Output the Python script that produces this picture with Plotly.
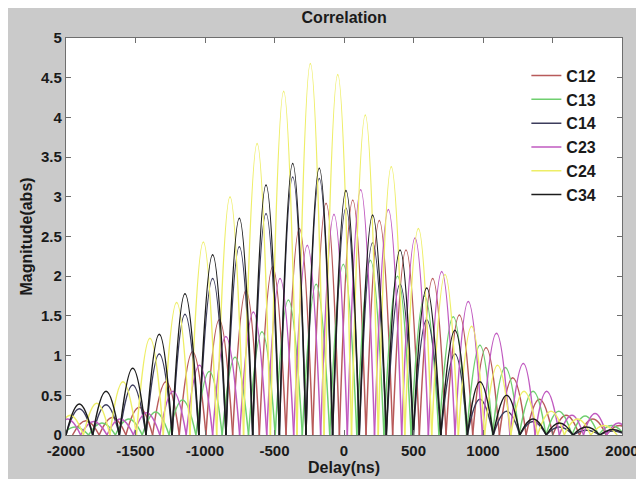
import plotly.graph_objects as go

# ---- data (lobe peak delay [ns] and peak magnitude) ----
series_names = ["C12", "C13", "C14", "C23", "C24", "C34"]

c12_delay = [-1857, -1665, -1473, -1281, -1089, -897, -705, -513, -321, -129, 63, 254, 446, 638, 830, 1022, 1214, 1406, 1598, 1790, 1982]
c12_mag = [0.18, 0.22, 0.35, 0.67, 1.05, 1.45, 1.82, 2.12, 2.60, 2.92, 2.96, 2.70, 2.33, 1.97, 1.51, 1.10, 0.72, 0.45, 0.25, 0.20, 0.12]

c13_delay = [-1934, -1741, -1548, -1355, -1162, -969, -784, -590, -400, -200, -5, 190, 385, 580, 786, 978, 1160, 1360, 1545, 1735, 1925]
c13_mag = [0.10, 0.15, 0.20, 0.29, 0.44, 0.80, 0.98, 1.30, 1.70, 1.90, 2.15, 2.20, 2.00, 1.75, 1.49, 1.13, 0.85, 0.55, 0.30, 0.24, 0.12]

c14_delay = [-1904, -1712, -1520, -1329, -1144, -945, -753, -561, -369, -178, 14, 206, 403, 595, 798, 978, 1170, 1360, 1550, 1745, 1935]
c14_mag = [0.33, 0.38, 0.63, 1.02, 1.52, 1.97, 2.37, 2.79, 3.25, 3.23, 2.86, 2.42, 1.90, 1.45, 1.02, 0.45, 0.30, 0.17, 0.10, 0.06, 0.05]

c23_delay = [-1990, -1800, -1610, -1420, -1230, -1040, -850, -652, -460, -264, -72, 120, 319, 511, 703, 894, 1097, 1290, 1458, 1640, 1806, 1974]
c23_mag = [0.20, 0.17, 0.20, 0.28, 0.55, 0.88, 1.24, 1.55, 1.97, 2.39, 2.78, 3.09, 2.84, 2.48, 2.06, 1.68, 1.28, 0.90, 0.55, 0.25, 0.27, 0.15]

c24_delay = [-1970, -1779, -1590, -1396, -1204, -1012, -820, -625, -434, -242, -45, 153, 340, 535, 727, 918, 1105, 1295, 1490, 1680, 1870]
c24_mag = [0.25, 0.40, 0.67, 1.22, 1.67, 2.43, 3.00, 3.67, 4.33, 4.68, 4.54, 4.03, 3.38, 2.60, 2.02, 1.37, 0.88, 0.55, 0.30, 0.20, 0.12]

c34_delay = [-1904, -1712, -1520, -1329, -1144, -945, -753, -561, -369, -178, 14, 206, 403, 595, 798, 978, 1170, 1360, 1550, 1745, 1935]
c34_mag = [0.39, 0.55, 0.84, 1.27, 1.78, 2.27, 2.73, 3.15, 3.42, 3.36, 3.08, 2.77, 2.33, 1.85, 1.32, 0.67, 0.50, 0.20, 0.15, 0.10, 0.07]

x_ticks = [-2000, -1500, -1000, -500, 0, 500, 1000, 1500, 2000]
y_ticks = [0, 0.5, 1, 1.5, 2, 2.5, 3, 3.5, 4, 4.5, 5]
y_tick_labels = ["0", "0.5", "1", "1.5", "2", "2.5", "3", "3.5", "4", "4.5", "5"]

colors = ["#b85a5a", "#6fcf6f", "#3c3c5c", "#c05ac0", "#eeee66", "#1c1c1c"]
all_delay = [c12_delay, c13_delay, c14_delay, c23_delay, c24_delay, c34_delay]
all_mag = [c12_mag, c13_mag, c14_mag, c23_mag, c24_mag, c34_mag]


def lobes(delay, mag):
    """Each lobe: rises from the zero before its peak to the peak and falls to the next zero."""
    xs, ys = [], []
    n = len(delay)
    for i in range(n):
        left = (delay[i] + delay[i - 1]) / 2 if i > 0 else delay[i] - (delay[1] - delay[0]) / 2
        right = (delay[i] + delay[i + 1]) / 2 if i < n - 1 else delay[i] + (delay[i] - delay[i - 1]) / 2
        xs += [left, delay[i], right, None]
        ys += [0, mag[i], 0, None]
    return xs, ys


fig = go.Figure()
for name, d, m, c in zip(series_names, all_delay, all_mag, colors):
    xs, ys = lobes(d, m)
    fig.add_trace(go.Scatter(
        x=xs, y=ys, name=name, mode="lines",
        line=dict(color=c, width=1.5, shape="spline", smoothing=1.3),
        connectgaps=False,
    ))

FONT = "Liberation Sans, Arial, sans-serif"
frame = "#6e6e6e"
txt = "#1a1a1a"

fig.update_layout(
    width=632, height=471,
    margin=dict(l=58, r=18, t=30, b=44, autoexpand=False),
    paper_bgcolor="#cacaca",
    plot_bgcolor="white",
    title=dict(text="Correlation", x=0.532, xanchor="center", y=0.981, yanchor="middle",
               font=dict(family=FONT, size=16, color=txt, weight="bold")),
    showlegend=True,
    legend=dict(x=0.828, y=0.948, xanchor="left", yanchor="top",
                bgcolor="white", borderwidth=0,
                font=dict(family=FONT, size=16, color=txt, weight="bold"),
                tracegroupgap=0),
    xaxis=dict(range=[-2000, 2000], tickvals=x_ticks, ticktext=[str(v) for v in x_ticks],
               ticks="inside", ticklen=5, tickcolor=frame, showgrid=False, zeroline=False,
               showline=True, linecolor=frame, linewidth=1.2, mirror="ticks",
               automargin=False, ticklabelstandoff=2, ticklabeloverflow="allow",
               tickfont=dict(family=FONT, size=15, color=txt, weight="bold"),
               title=dict(text="Delay(ns)", standoff=0,
                          font=dict(family=FONT, size=16, color=txt, weight="bold"))),
    yaxis=dict(range=[0, 5], tickvals=y_ticks, ticktext=y_tick_labels,
               ticks="inside", ticklen=5, tickcolor=frame, showgrid=False, zeroline=False,
               showline=True, linecolor=frame, linewidth=1.2, mirror="ticks",
               automargin=False, ticklabeloverflow="allow",
               tickfont=dict(family=FONT, size=15, color=txt, weight="bold"),
               title=dict(text="Magnitude(abs)", standoff=4,
                          font=dict(family=FONT, size=16, color=txt, weight="bold"))),
)

fig.write_html("out.html")
